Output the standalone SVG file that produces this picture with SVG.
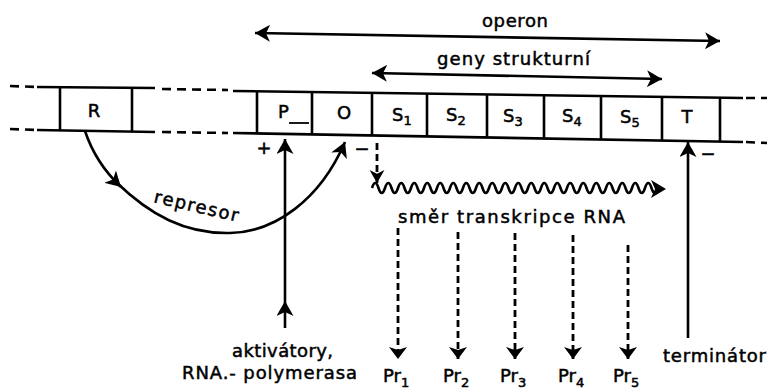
<svg xmlns="http://www.w3.org/2000/svg" width="767" height="390" viewBox="0 0 767 390">
<style>
.ln{stroke:#000;stroke-width:2.6;fill:none}
.dl{stroke:#000;stroke-width:2.6;fill:none;stroke-dasharray:9 6}
.dv{stroke:#000;stroke-width:2.8;fill:none;stroke-dasharray:7 4}
.t{font-family:"DejaVu Sans","Liberation Sans",sans-serif;font-size:18px;fill:#000;stroke:#000;stroke-width:0.5}
.sub{font-size:13px}
.ah{fill:#000;stroke:none}
</style>
<defs>
<marker id="arr" markerUnits="userSpaceOnUse" viewBox="0 0 15 17" refX="15" refY="8.5" markerWidth="15" markerHeight="17" orient="auto-start-reverse">
<path class="ah" d="M0,0 L15,8.5 L0,17 L4,8.5 z"/>
</marker>
<marker id="arrW" markerUnits="userSpaceOnUse" viewBox="0 0 12 18" refX="12" refY="9" markerWidth="12" markerHeight="18" orient="auto">
<path class="ah" d="M0,0 L12,9 L0,18 L3,9 z"/>
</marker>
<marker id="arrS" markerUnits="userSpaceOnUse" viewBox="0 0 14 16" refX="14" refY="8" markerWidth="13" markerHeight="15" orient="auto">
<path class="ah" d="M0,0 L14,8 L0,16 L4,8 z"/>
</marker>
</defs>

<g id="dna">
<line class="dl" x1="10" y1="86" x2="37" y2="87"/>
<line class="ln" x1="37" y1="87" x2="155" y2="88"/>
<line class="dl" x1="162" y1="89" x2="228" y2="90"/>
<line class="dl" x1="10" y1="129" x2="37" y2="130"/>
<line class="ln" x1="37" y1="130" x2="155" y2="132"/>
<line class="dl" x1="162" y1="132" x2="228" y2="133"/>
<line class="ln" x1="233" y1="91" x2="743" y2="98"/>
<line class="ln" x1="233" y1="133" x2="743" y2="142"/>
<line class="dl" x1="746" y1="98" x2="767" y2="98"/>
<line class="dl" x1="746" y1="142" x2="767" y2="143"/>
</g>

<g id="R">
<line class="ln" x1="60" y1="87" x2="60" y2="130"/>
<line class="ln" x1="132" y1="88" x2="132" y2="131"/>
<text class="t" x="94" y="117" text-anchor="middle">R</text>
</g>
<g id="P">
<line class="ln" x1="257" y1="91.3" x2="257" y2="133.4"/>
<text class="t" x="278" y="118">P</text>
<line class="ln" x1="289" y1="123" x2="309" y2="123" style="stroke-width:1.8"/>
</g>
<g id="O">
<line class="ln" x1="312" y1="92.1" x2="312" y2="134.4"/>
<text class="t" x="344" y="119" text-anchor="middle">O</text>
</g>
<g id="S1">
<line class="ln" x1="372" y1="92.9" x2="372" y2="135.5"/>
<text class="t" x="392" y="121">S<tspan class="sub" dy="4">1</tspan></text>
</g>
<g id="S2">
<line class="ln" x1="427" y1="93.7" x2="427" y2="136.4"/>
<text class="t" x="446" y="121">S<tspan class="sub" dy="4">2</tspan></text>
</g>
<g id="S3">
<line class="ln" x1="487" y1="94.5" x2="487" y2="137.5"/>
<text class="t" x="503" y="122">S<tspan class="sub" dy="4">3</tspan></text>
</g>
<g id="S4">
<line class="ln" x1="544" y1="95.3" x2="544" y2="138.5"/>
<text class="t" x="562" y="122">S<tspan class="sub" dy="4">4</tspan></text>
</g>
<g id="S5">
<line class="ln" x1="601" y1="96.1" x2="601" y2="139.5"/>
<text class="t" x="620" y="123">S<tspan class="sub" dy="4">5</tspan></text>
</g>
<g id="T">
<line class="ln" x1="662" y1="96.9" x2="662" y2="140.6"/>
<line class="ln" x1="720" y1="97.7" x2="720" y2="141.6"/>
<text class="t" x="687" y="123" text-anchor="middle">T</text>
</g>

<g id="labels">
<text class="t" x="482" y="27" textLength="66" lengthAdjust="spacing">operon</text>
<text class="t" x="437" y="65" textLength="153" lengthAdjust="spacing">geny strukturní</text>
<text class="t" x="195" y="212" text-anchor="middle" transform="rotate(13 195 212)" textLength="86" lengthAdjust="spacing">represor</text>
<text class="t" x="398" y="223" textLength="227" lengthAdjust="spacing">směr transkripce RNA</text>
<text class="t" x="232" y="357" textLength="101" lengthAdjust="spacing">aktivátory,</text>
<text class="t" x="182" y="379" textLength="175" lengthAdjust="spacing">RNA.- polymerasa</text>
<text class="t" x="663" y="362" textLength="103" lengthAdjust="spacing">terminátor</text>
<text class="t" x="264" y="154" text-anchor="middle">+</text>
<text class="t" x="362" y="155" text-anchor="middle">−</text>
<text class="t" x="708" y="160" text-anchor="middle">−</text>
</g>

<g id="products">
<text class="t" x="383" y="382">Pr<tspan class="sub" dy="5">1</tspan></text>
<text class="t" x="443" y="382">Pr<tspan class="sub" dy="5">2</tspan></text>
<text class="t" x="500" y="382">Pr<tspan class="sub" dy="5">3</tspan></text>
<text class="t" x="558" y="382">Pr<tspan class="sub" dy="5">4</tspan></text>
<text class="t" x="613" y="382">Pr<tspan class="sub" dy="5">5</tspan></text>
</g>

<g id="connectors">
<line class="ln" x1="255" y1="33" x2="720" y2="41" marker-start="url(#arr)" marker-end="url(#arr)"/>
<line class="ln" x1="372" y1="73" x2="662" y2="79" marker-start="url(#arr)" marker-end="url(#arr)"/>
<path class="ln" d="M85,131 C92,152 103,170 121,187" marker-end="url(#arr)"/>
<path class="ln" d="M116,182 C150,215 185,234 230,233 C275,232 320,200 345,142" marker-end="url(#arr)"/>
<path class="ln" d="M285,328 L285,301 L285,139" marker-mid="url(#arr)" marker-end="url(#arr)"/>
<line class="ln" x1="688" y1="338" x2="688" y2="142" marker-end="url(#arr)"/>
<line class="dv" x1="377" y1="143" x2="377" y2="183" marker-end="url(#arrS)"/>
<path class="ln" d="M372,188 q3.25,-10 6.5,0 t6.5,0 t6.5,0 t6.5,0 t6.5,0 t6.5,0 t6.5,0 t6.5,0 t6.5,0 t6.5,0 t6.5,0 t6.5,0 t6.5,0 t6.5,0 t6.5,0 t6.5,0 t6.5,0 t6.5,0 t6.5,0 t6.5,0 t6.5,0 t6.5,0 t6.5,0 t6.5,0 t6.5,0 t6.5,0 t6.5,0 t6.5,0 t6.5,0 t6.5,0 t6.5,0 t6.5,0 t6.5,0 t6.5,0 t6.5,0 t6.5,0 t6.5,0 t6.5,0 t6.5,0 t6.5,0 t6.5,0 t6.5,0 t6.5,0 t6.5,0"/>
<path class="ah" d="M666,189 L651,180 L655,189 L651,198 z"/>
<line class="dv" x1="398" y1="228" x2="398" y2="359" marker-end="url(#arrW)"/>
<line class="dv" x1="458" y1="232" x2="458" y2="359" marker-end="url(#arrW)"/>
<line class="dv" x1="515" y1="233" x2="515" y2="359" marker-end="url(#arrW)"/>
<line class="dv" x1="573" y1="235" x2="573" y2="359" marker-end="url(#arrW)"/>
<line class="dv" x1="628" y1="245" x2="628" y2="359" marker-end="url(#arrW)"/>
</g>
</svg>
